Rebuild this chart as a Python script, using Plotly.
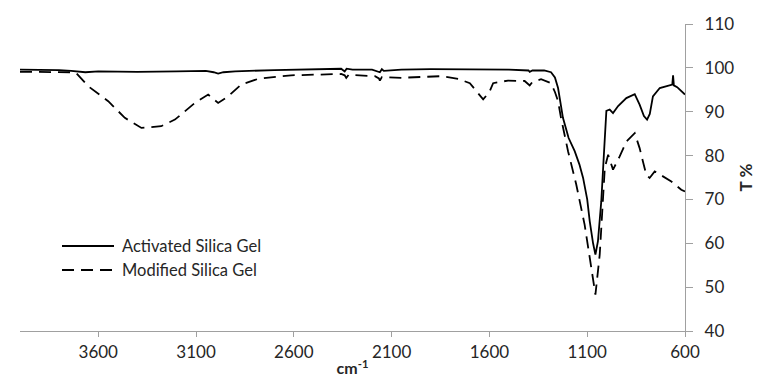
import plotly.graph_objects as go

# Activated Silica Gel (solid)
act_wn = [4000, 3900, 3800, 3738, 3700, 3666, 3600, 3400, 3200, 3050, 3010, 2987, 2960, 2900,
          2700, 2500, 2358, 2340, 2330, 2300, 2200, 2160, 2150, 2140, 2050, 1900, 1700, 1500,
          1400, 1394, 1380, 1320, 1285, 1265, 1249, 1224, 1195, 1164, 1140, 1121, 1100, 1087,
          1070, 1058, 1045, 1028, 1015, 1002, 985, 968, 942, 900, 857, 832, 810, 794, 780,
          764, 729, 687, 665, 661, 657, 640, 627, 600]
act_t = [99.6, 99.6, 99.5, 99.3, 99.2, 99.0, 99.2, 99.1, 99.2, 99.3, 99.0, 98.7, 99.0, 99.2,
         99.5, 99.6, 99.8, 99.2, 99.8, 99.6, 99.6, 99.0, 99.7, 99.3, 99.6, 99.7, 99.7, 99.6,
         99.4, 99.1, 99.4, 99.4, 99.0, 97.8, 95.4, 88.6, 84.0, 81.0, 78.0, 74.9, 70.0, 65.0,
         60.0, 57.4, 60.5, 69.6, 80.0, 90.2, 90.5, 89.7, 91.3, 93.1, 94.0, 91.6, 89.0, 88.2, 89.5,
         93.5, 95.4, 96.0, 96.2, 98.3, 96.0, 95.6, 95.0, 93.9]

# Modified Silica Gel (dashed)
mod_wn = [4000, 3900, 3800, 3738, 3712, 3651, 3549, 3464, 3379, 3278, 3208, 3106, 3038, 2987,
          2936, 2869, 2782, 2614, 2358, 2340, 2332, 2320, 2185, 2165, 2160, 2150, 2032, 2016,
          1847, 1760, 1700, 1632, 1600, 1581, 1505, 1420, 1394, 1380, 1336, 1285, 1265, 1249,
          1234, 1198, 1156, 1113, 1079, 1058, 1036, 1010, 993, 968, 934, 900, 857, 832, 798,
          781, 755, 704, 670, 619, 600]
mod_t = [99.1, 99.1, 99.0, 99.0, 98.8, 95.8, 92.4, 88.6, 86.3, 86.7, 88.2, 92.0, 93.9, 92.0,
         93.5, 96.2, 97.5, 98.3, 98.6, 98.3, 97.7, 98.4, 98.1, 97.6, 97.1, 97.9, 97.7, 97.8,
         98.1, 97.5, 96.5, 92.8, 94.5, 96.5, 97.1, 97.0, 96.0, 96.8, 97.4, 96.5, 94.5, 92.4,
         88.6, 81.0, 73.4, 64.2, 54.4, 48.3, 57.4, 77.2, 80.2, 76.8, 79.8, 83.2, 85.1, 81.7, 75.6,
         74.9, 76.4, 74.9, 74.1, 72.2, 71.8]

x_ticks = [3600, 3100, 2600, 2100, 1600, 1100, 600]
y_ticks = [40, 50, 60, 70, 80, 90, 100, 110]
series_names = ["Activated Silica Gel", "Modified Silica Gel"]

FONT = "Lato"
TXT = "#262626"
AX = "#a0a0a0"

fig = go.Figure()
fig.add_trace(go.Scatter(x=act_wn, y=act_t, mode="lines", name=series_names[0],
                         line=dict(color="black", width=1.8), showlegend=False))
fig.add_trace(go.Scatter(x=mod_wn, y=mod_t, mode="lines", name=series_names[1],
                         line=dict(color="black", width=1.8, dash="12px,7px"), showlegend=False))

L, R, T, B = 12, 88, 16, 57
W, H = 765, 380
pw, ph = W - L - R, H - T - B

def px(xp):
    return (xp - L) / pw

def py(yp):
    return (H - B - yp) / ph

# custom legend
legend_rows = [(238, "solid"), (262, "12px,7px")]
for (yy, dash), name in zip(legend_rows, series_names):
    fig.add_shape(type="line", xref="paper", yref="paper",
                  x0=px(54), x1=px(106), y0=py(yy), y1=py(yy),
                  line=dict(color="black", width=1.8, dash=dash))
    fig.add_annotation(xref="paper", yref="paper", x=px(112), y=py(yy), text=name,
                       showarrow=False, xanchor="left", yanchor="middle",
                       font=dict(family=FONT, size=16.5, color=TXT))

fig.update_layout(
    width=W, height=H,
    margin=dict(l=L, r=R, t=T, b=B, autoexpand=False),
    paper_bgcolor="white", plot_bgcolor="white",
    font=dict(family=FONT, size=17, color=TXT),
    xaxis=dict(range=[4000, 600], tickvals=x_ticks, ticktext=[str(v) for v in x_ticks],
               automargin=False,
               showgrid=False, zeroline=False, showline=True, linecolor=AX, linewidth=1.3,
               ticks="outside", ticklen=5, tickcolor=AX, tickwidth=1.3,
               tickfont=dict(family=FONT, size=17, color=TXT),
               title=dict(text="<b>cm<sup>-1</sup></b>", standoff=2,
                          font=dict(family=FONT, size=16, color=TXT))),
    yaxis=dict(range=[40, 110], tickvals=y_ticks, side="right",
               automargin=False,
               showgrid=False, zeroline=False, showline=True, linecolor=AX, linewidth=1.3,
               ticks="outside", ticklen=7, tickcolor=AX, tickwidth=1.3,
               tickfont=dict(family=FONT, size=17, color=TXT),
               ticklabelstandoff=8,
               title=dict(text="<b>T %</b>", standoff=6,
                          font=dict(family=FONT, size=17, color=TXT))),
)

fig.write_html("out.html")
